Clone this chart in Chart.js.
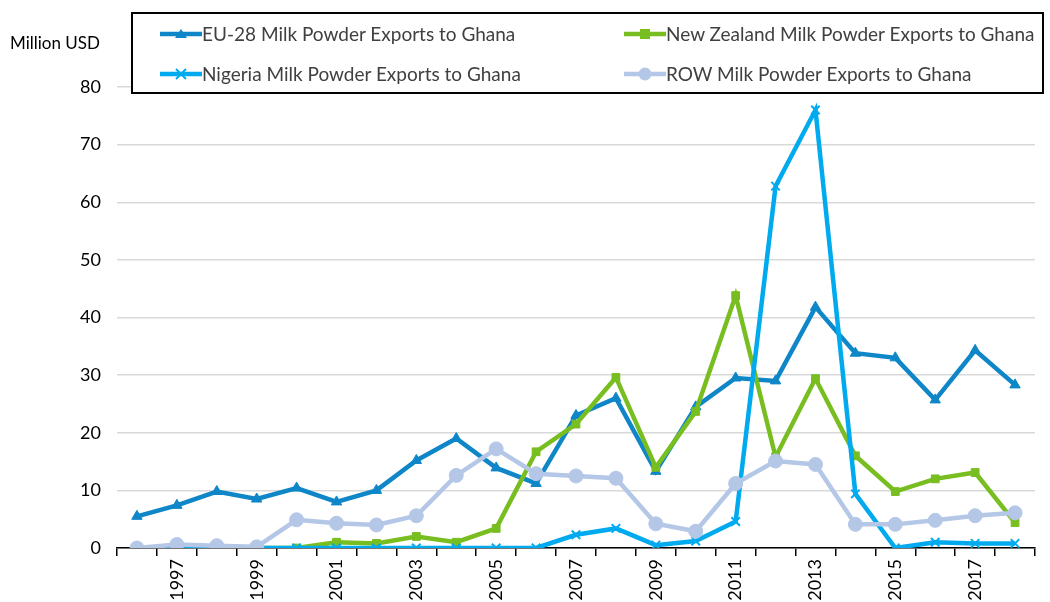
<!DOCTYPE html>
<html>
<head>
<meta charset="utf-8">
<script src="https://cdn.jsdelivr.net/npm/chart.js@4"></script>
<style>
  body { margin: 0; background: #fff; }
  #wrap { position: relative; width: 1050px; height: 602px; font-family: Lato, sans-serif; }
  #unit { position: absolute; left: 10px; top: 32px; font-size: 17px; color: #000; }
  #legend { position: absolute; left: 131px; top: 12px; width: 913px; height: 82px;
            border: 2px solid #000; background: #fff; box-sizing: border-box; }
  .item { position: absolute; display: flex; align-items: center; font-size: 19px; color: #404040; white-space: nowrap; }
</style>
</head>
<body>
<div id="wrap">
  <canvas id="myChart" width="1050" height="602"></canvas>
  <div id="unit">Million USD</div>
  <div id="legend"></div>
</div>
<script>
// 데이터
const years = ['1996','1997','1998','1999','2000','2001','2002','2003','2004','2005','2006',
  '2007','2008','2009','2010','2011','2012','2013','2014','2015','2016','2017','2018'];
const seriesNames = [
  'EU-28 Milk Powder Exports to Ghana',
  'New Zealand Milk Powder Exports to Ghana',
  'Nigeria Milk Powder Exports to Ghana',
  'ROW Milk Powder Exports to Ghana'
];
const euValues = [5.5, 7.4, 9.8, 8.5, 10.4, 8.0, 10.0, 15.2, 19.0, 13.9, 11.2,
  23.0, 26.0, 13.3, 24.5, 29.5, 29.0, 41.8, 33.8, 33.0, 25.7, 34.3, 28.3];
const nzValues = [0, 0, 0, 0, 0, 1.0, 0.8, 2.0, 1.0, 3.4, 16.7,
  21.5, 29.6, 14.0, 23.7, 43.8, 15.8, 29.4, 16.0, 9.8, 12.0, 13.1, 4.4];
const nigeriaValues = [0, 0, 0, 0, 0, 0, 0, 0, 0, 0, 0,
  2.3, 3.4, 0.5, 1.2, 4.6, 62.8, 76.0, 9.4, 0, 1.0, 0.8, 0.8];
const rowValues = [0, 0.6, 0.4, 0.2, 4.9, 4.3, 4.0, 5.6, 12.6, 17.2, 12.9,
  12.5, 12.1, 4.2, 2.9, 11.2, 15.1, 14.5, 4.1, 4.1, 4.8, 5.6, 6.1];
const yTicks = [0, 10, 20, 30, 40, 50, 60, 70, 80];

const colors = ['#0E86C8', '#78BE20', '#00AAEF', '#B4C7E7'];
const styles = ['triangle', 'rect', 'crossRot', 'circle'];
const radii = [6, 5.5, 6, 7];
const allValues = [euValues, nzValues, nigeriaValues, rowValues];

const datasets = allValues.map((vals, i) => ({
  label: seriesNames[i],
  data: vals,
  borderColor: colors[i],
  backgroundColor: colors[i],
  pointBackgroundColor: colors[i],
  pointBorderColor: colors[i],
  pointStyle: styles[i],
  pointRadius: radii[i],
  pointBorderWidth: i === 2 ? 2 : 1,
  borderWidth: 4.5,
  tension: 0,
  order: 4 - i
}));

// 범례 (HTML)
const legendPos = [[27, 8], [491, 8], [27, 48], [491, 48]];
const legend = document.getElementById('legend');
seriesNames.forEach((name, i) => {
  const d = document.createElement('div');
  d.className = 'item';
  d.style.left = legendPos[i][0] + 'px';
  d.style.top = legendPos[i][1] + 'px';
  let marker = '';
  const c = colors[i];
  if (styles[i] === 'triangle') marker = `<polygon points="21,5 27,14 15,14" fill="${c}"/>`;
  if (styles[i] === 'rect') marker = `<rect x="16" y="5" width="10" height="10" fill="${c}"/>`;
  if (styles[i] === 'crossRot') marker = `<path d="M16,5 L26,15 M26,5 L16,15" stroke="${c}" stroke-width="2"/>`;
  if (styles[i] === 'circle') marker = `<circle cx="21" cy="10" r="6.5" fill="${c}"/>`;
  d.innerHTML = `<svg width="42" height="20"><line x1="0" y1="10" x2="42" y2="10" stroke="${c}" stroke-width="4.5"/>${marker}</svg><span>${name}</span>`;
  legend.appendChild(d);
});

const ctx = document.getElementById('myChart').getContext('2d');
const myChart = new Chart(ctx, {
  type: 'line',
  data: { labels: years, datasets: datasets },
  options: {
    responsive: false,
    animation: false,
    layout: { padding: { top: 87, right: 15, left: 0, bottom: 0 } },
    plugins: { legend: { display: false }, tooltip: { enabled: false } },
    scales: {
      x: {
        offset: true,
        grid: { display: true, drawOnChartArea: false, drawTicks: true, tickLength: 8, color: '#000', lineWidth: 1.5, offset: true },
        border: { display: true, color: '#000', width: 1.5 },
        ticks: {
          autoSkip: false, minRotation: 90, maxRotation: 90, padding: 3,
          color: '#000', font: { family: 'Lato', size: 18 },
          callback: (v, i) => (i % 2 === 1 ? years[i] : '')
        },
        afterFit: (s) => { s.height = 54; }
      },
      y: {
        min: 0, max: 80,
        afterBuildTicks: (s) => { s.ticks = yTicks.map(v => ({ value: v })); },
        grid: { color: '#D9D9D9', lineWidth: 1.5, drawTicks: false },
        border: { display: false },
        ticks: { padding: 16, color: '#000', font: { family: 'Lato', size: 18 } },
        afterFit: (s) => { s.width = 117; }
      }
    }
  }
});
</script>
</body>
</html>
